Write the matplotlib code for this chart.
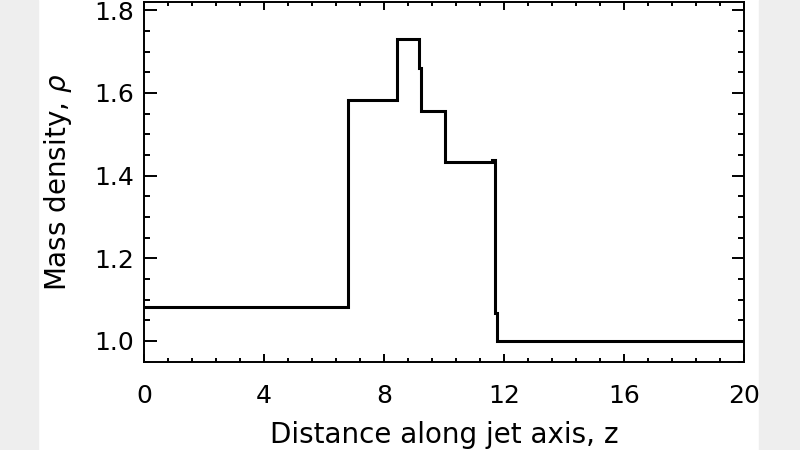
import matplotlib
matplotlib.use("Agg")
import matplotlib.pyplot as plt
from matplotlib.patches import Rectangle
from matplotlib.ticker import MultipleLocator

# Step profile of mass density along the jet axis
z_edges = [0.0, 6.81, 8.42, 9.17, 9.22, 10.03, 11.60, 11.70, 11.76, 20.0]
rho = [1.081, 1.583, 1.730, 1.660, 1.557, 1.433, 1.438, 1.067, 1.000]

x_ticks = [0, 4, 8, 12, 16, 20]
y_ticks = [1.0, 1.2, 1.4, 1.6, 1.8]

plt.rcParams['font.family'] = ['DejaVu Sans']

fig = plt.figure(figsize=(8, 4.5), dpi=100)
fig.patch.set_facecolor('white')
# light grey side margins of the original frame
fig.patches.append(Rectangle((0, 0), 38/800, 1, transform=fig.transFigure,
                             color='#eeeeee', zorder=-5))
fig.patches.append(Rectangle((759/800, 0), 41/800, 1, transform=fig.transFigure,
                             color='#eeeeee', zorder=-5))

ax = fig.add_axes([144/800, (450-361.5)/450, 600/800, 359.5/450])
ax.stairs(rho, z_edges, baseline=None, color='black', linewidth=2.2)

ax.set_xlim(0, 20)
ax.set_ylim(0.95, 1.82)
ax.set_xticks(x_ticks)
ax.set_xticklabels([str(v) for v in x_ticks])
ax.set_yticks(y_ticks)
ax.set_yticklabels([f"{v:.1f}" for v in y_ticks])
ax.xaxis.set_minor_locator(MultipleLocator(0.8))
ax.yaxis.set_minor_locator(MultipleLocator(0.05))

for s in ax.spines.values():
    s.set_linewidth(1.4)

ax.tick_params(axis='both', which='both', direction='in', top=True, right=True,
               width=1.4, colors='black')
ax.tick_params(axis='x', which='major', length=6, pad=16, labelsize=18)
ax.tick_params(axis='x', which='minor', length=3)
ax.tick_params(axis='y', which='major', length=9, pad=7, labelsize=18)
ax.tick_params(axis='y', which='minor', length=4)

fig.text(444/800, 1 - 435/450, 'Distance along jet axis, z', ha='center', va='center',
         fontsize=20)
fig.text(58/800, 1 - 182/450, r'Mass density, $\rho$', ha='center', va='center',
         rotation=90, fontsize=20)

fig.savefig('out.png', dpi=100, facecolor='white')
